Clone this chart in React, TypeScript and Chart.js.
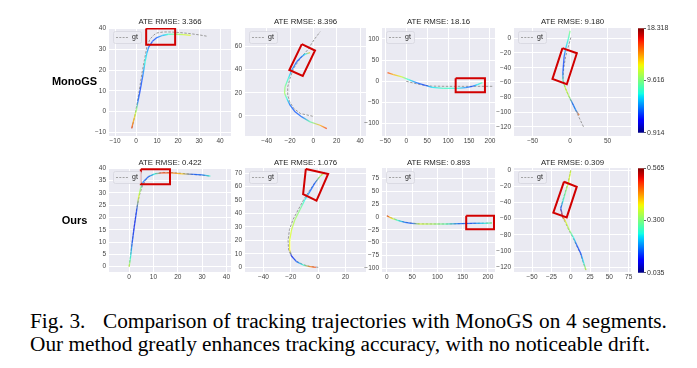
import React, { useEffect, useRef } from "react";
import { Chart, registerables } from "chart.js";
Chart.register(...registerables);

// ---------------- data ----------------
const titles = [
  "ATE RMSE: 3.366", "ATE RMSE: 8.396", "ATE RMSE: 18.16", "ATE RMSE: 9.180",
  "ATE RMSE: 0.422", "ATE RMSE: 1.076", "ATE RMSE: 0.893", "ATE RMSE: 0.309",
];
const rowLabels = ["MonoGS", "Ours"];
const cbTicksMono = [0.914, 9.616, 18.318];
const cbTicksOurs = [0.035, 0.3, 0.565];

// MonoGS, segment 1
const m1Est = [[-2.1,-8],[-1.1,-4],[-0.3,-1],[0.3,1.5],[0.9,5],[1.9,10],[2.8,15],[3.5,19],[4.3,24],[5.1,28],[6,31],[7.8,33.8],[9.9,35.6],[12.5,36.6],[15.4,37.2],[19,37.2],[22.5,37],[26,36.7]];
const m1Err = [15.71,13.45,11.36,9.62,4.74,4.05,4.39,5.27,7.53,6.48,4.74,4.05,4.39,6.14,7.88,9.62,11.36,11.7];
const m1Gt = [[-2,-8],[-0.6,-2],[0.5,4],[1.5,10],[2.7,18],[4,25],[5.1,31],[6.6,34.8],[8.5,36.9],[9.9,37.8],[13,38.3],[16.2,38.3],[21,38],[25.7,37.5],[30,36.9],[34,36.2]];
const m1Box = [[4.8,39.9],[18.6,39.9],[18.6,32.2],[4.8,32.2],[4.8,39.9]];
const m1XTicks = [-10,0,10,20,30,40];
const m1YTicks = [-10,0,10,20,30,40];

// MonoGS, segment 2
const m2Est = [[11.5,-11],[5.7,-8.1],[-2.8,-5.2],[-9.9,-0.9],[-15.7,3.5],[-20,9.3],[-22.8,15.1],[-24.7,19.5],[-24.3,25.2],[-21.4,32.5],[-18.5,39.7],[-14.2,47],[-9.9,51.3],[-7.1,53.4],[-2.8,54.8]];
const m2Err = [15.71,13.45,8.75,4.74,4.39,4.74,7.53,10.49,9.62,7.53,5.27,4.39,4.74,7.0,13.1];
const m2Gt = [[-0.5,-0.3],[-11,2],[-16.8,6.4],[-20.3,12.2],[-22,18],[-22,25],[-20,32.5],[-17,41],[-11,50],[-5,57],[0.7,66],[5.8,72.8]];
const m2Box = [[-9.9,62.1],[1.4,56.5],[-9.1,34.5],[-20.6,39.7],[-9.9,62.1]];
const m2XTicks = [-40,-20,0,20,40];
const m2YTicks = [0,20,40,60];

// MonoGS, segment 3
const m3Est = [[-44.9,20.7],[-30.5,15.9],[-10.4,10.3],[5.6,3.9],[25.6,-4],[45.7,-9.5],[61.7,-14.3],[89.7,-16.7],[121.8,-16.7],[141.8,-15.1],[157.9,-11.9],[169.9,-7.9],[181.9,-3.2]];
const m3Err = [15.71,13.45,11.36,7.53,4.74,4.05,7.0,8.22,7.53,5.27,4.05,7.0,8.75];
const m3Gt = [[0,0],[20,-5],[40,-9],[60,-11.5],[100,-12],[150,-12],[209,-12]];
const m3Box = [[118,7],[188,7],[188,-26],[118,-26],[118,7]];
const m3XTicks = [-50,0,50,100,150,200];
const m3YTicks = [-100,-50,0,50,100];

// MonoGS, segment 4
const m4Est = [[0,9.9],[-2.7,-2.3],[-5.8,-13.6],[-8,-24.9],[-8.9,-36.2],[-9.8,-47.5],[-9.4,-58.9],[-5.8,-68.8],[-1.3,-79.2],[3.2,-88.2],[7.6,-97.3],[12.1,-104]];
const m4Err = [9.62,7.88,6.48,4.39,4.05,4.74,8.75,11.36,10.49,4.74,5.27,14.84];
const m4Gt = [[1,0.8],[-2,-10],[-6,-25],[-8.5,-40],[-9.5,-55],[-7,-66],[-2,-78],[4,-90],[10,-103],[18,-120]];
const m4Box = [[-10.2,-13.6],[9,-20.4],[-4.4,-62.4],[-23.6,-55.2],[-10.2,-13.6]];
const m4XTicks = [-50,0,50];
const m4YTicks = [-120,-100,-80,-60,-40,-20,0];

// Ours, segment 1
const o1Est = [[0,0],[0.6,4],[1.2,9.5],[2.1,16.2],[3.1,23],[3.9,28.4],[4.7,31.9],[5.8,34.5],[7.9,36.6],[10.6,37.7],[13.4,38.1],[17.5,38.1],[21.7,37.7],[26.5,37.5],[30,37.3],[33.4,36.8]];
const o1Err = [0.353,0.236,0.141,0.115,0.13,0.364,0.3,0.152,0.141,0.236,0.486,0.459,0.406,0.141,0.152,0.247];
const o1Gt = [[0,0],[1,8],[2,16],[3,23],[4.2,29],[5.5,33],[7.5,36.2],[10.5,37.8],[14,38.3],[18,38.2],[22,37.9],[26,37.5],[30,37.2],[33.5,36.8]];
const o1Box = [[4.8,39.6],[16.8,39.6],[16.8,33.5],[4.8,33.5],[4.8,39.6]];
const o1XTicks = [0,10,20,30,40];
const o1YTicks = [0,5,10,15,20,25,30,35,40];

// Ours, segment 2
const o2Est = [[-1.7,0],[-6.1,0.5],[-11,1.7],[-15.9,4.2],[-19.5,8.4],[-20.8,12.9],[-20.8,20.3],[-19.5,27.8],[-17.1,35.2],[-13.4,42.7],[-9.8,50.1],[-6.1,56.3],[-2.4,62.6],[1.2,67.5],[4.4,70]];
const o2Err = [0.486,0.448,0.247,0.141,0.115,0.38,0.364,0.353,0.327,0.3,0.236,0.152,0.141,0.327,0.353];
const o2Gt = [[0,0],[-6,0.6],[-11,2],[-16,4.6],[-19.8,8.8],[-21.6,13],[-22,20],[-21,28],[-18.4,35.5],[-14.5,43],[-10.5,50.5],[-6.5,57],[-2.4,63],[1.6,68],[4.8,70.8]];
const o2Box = [[-9,73.2],[7.3,69.5],[-1.2,49.6],[-11,54.4],[-9,73.2]];
const o2XTicks = [-40,-20,0,20];
const o2YTicks = [0,10,20,30,40,50,60,70];

// Ours, segment 3
const o3Est = [[0,2.2],[9.7,-2.8],[22.7,-7.5],[35.7,-10.6],[48.7,-12.5],[64.9,-13.9],[90.9,-13.9],[117,-13.9],[142.9,-13.3],[168.8,-12.5],[191.6,-12.5],[207.8,-11.9]];
const o3Err = [0.486,0.38,0.236,0.152,0.141,0.353,0.327,0.274,0.152,0.141,0.221,0.3];
const o3Gt = [[0,2],[10,-2.5],[23,-7],[36,-10.3],[49,-12.2],[65,-13.6],[91,-13.8],[117,-13.8],[143,-13.3],[169,-12.6],[192,-12.3],[208,-11.8]];
const o3Box = [[157,2.2],[212,2.2],[212,-24.2],[157,-24.2],[157,2.2]];
const o3XTicks = [0,50,100,150,200];
const o3YTicks = [-100,-75,-50,-25,0,25,50,75];

// Ours, segment 4
const o4Est = [[0,-0.8],[-3.1,-16.4],[-6.5,-26.7],[-9.6,-37],[-12.9,-47.3],[-10.3,-57.6],[-6.5,-63.7],[-1.8,-74],[3.4,-83],[7.8,-92.5],[12.9,-102.7],[16.3,-113],[19.8,-123.3]];
const o4Err = [0.353,0.364,0.3,0.247,0.13,0.486,0.364,0.327,0.236,0.141,0.13,0.221,0.353];
const o4Gt = [[0,-0.5],[-3.5,-16],[-7,-27],[-10.3,-37.5],[-13.2,-48],[-11,-58],[-7,-64.5],[-2.2,-74.5],[3,-83.5],[7.4,-93],[12.5,-103],[16,-113.5],[19.6,-123.5]];
const o4Box = [[-8.7,-14.4],[7.8,-20.6],[-5.2,-58.4],[-22.5,-52.6],[-8.7,-14.4]];
const o4XTicks = [-50,-25,0,25,50,75];
const o4YTicks = [-120,-100,-80,-60,-40,-20,0];

// axis limits [xmin, xmax, ymin, ymax]
const limits = [
  [-12.9, 45.2, -11.7, 40.2],
  [-58.6, 45.1, -17.4, 76],
  [-58, 212, -129.5, 126],
  [-75, 81.4, -132.2, 13.6],
  [-8.3, 41.9, -2.2, 40.1],
  [-53.5, 35, -3.5, 73.9],
  [-9.7, 214, -107.2, 95],
  [-73.4, 78, -125.8, 2.5],
];

const captionLine1 = ["Fig.", "3.", "Comparison", "of", "tracking", "trajectories", "with", "MonoGS", "on", "4", "segments."];
const captionLine2 = "Our method greatly enhances tracking accuracy, with no noticeable drift.";

// ---------------- layout ----------------
const colL = [109, 245, 382, 514];
const colR = [231, 366, 495, 631];
const rowT = [28, 168];
const rowB = [136, 272];
const titlePad = [[2, 1], [4, 0]];
const cbTop = [28, 168];
const cbBottom = [133, 273];

// ---------------- colormap ----------------
const JR = [[0, 0], [0.35, 0], [0.66, 1], [0.89, 1], [1, 0.5]];
const JG = [[0, 0], [0.125, 0], [0.375, 1], [0.64, 1], [0.91, 0], [1, 0]];
const JB = [[0, 0.5], [0.11, 1], [0.34, 1], [0.65, 0], [1, 0]];
function interp(p: number[][], t: number) {
  for (let i = 1; i < p.length; i++) {
    if (t <= p[i][0]) {
      const [t0, v0] = p[i - 1];
      const [t1, v1] = p[i];
      return v0 + ((v1 - v0) * (t - t0)) / (t1 - t0);
    }
  }
  return p[p.length - 1][1];
}
function jet(t: number, a = 1) {
  const c = Math.max(0, Math.min(1, t));
  const r = Math.round(interp(JR, c) * 255);
  const g = Math.round(interp(JG, c) * 255);
  const b = Math.round(interp(JB, c) * 255);
  return `rgba(${r},${g},${b},${a})`;
}

const fmt = (v: number) => String(v).replace("-", "\u2212");
const FONT = "'Liberation Sans', Arial, sans-serif";
const YW = 30;   // y-axis label column width
const RP = 8;    // right padding of each panel canvas

const bgPlugin = {
  id: "bgPanel",
  beforeDraw(chart: any) {
    const { ctx, chartArea: a } = chart;
    ctx.save();
    ctx.fillStyle = "#EAEAF2";
    ctx.fillRect(a.left, a.top, a.right - a.left, a.bottom - a.top);
    ctx.restore();
  },
};
const legendPlugin = {
  id: "gtLegend",
  afterDatasetsDraw(chart: any) {
    const { ctx, chartArea: a } = chart;
    const x = a.left + 4, y = a.top + 3, w = 28, h = 12;
    ctx.save();
    ctx.beginPath();
    (ctx as any).roundRect(x + 0.5, y + 0.5, w, h, 2);
    ctx.fillStyle = "rgba(236,236,243,0.85)";
    ctx.fill();
    ctx.strokeStyle = "#d6d6de";
    ctx.lineWidth = 0.8;
    ctx.stroke();
    ctx.beginPath();
    ctx.setLineDash([2, 1.3]);
    ctx.strokeStyle = "#9a9a9a";
    ctx.lineWidth = 0.9;
    ctx.moveTo(x + 3, y + 6.5);
    ctx.lineTo(x + 15, y + 6.5);
    ctx.stroke();
    ctx.setLineDash([]);
    ctx.fillStyle = "#262626";
    ctx.font = `7px ${FONT}`;
    ctx.textBaseline = "middle";
    ctx.fillText("gt", x + 19, y + 6.5);
    ctx.restore();
  },
};

const toPts = (arr: number[][]) => arr.map(([x, y]) => ({ x, y }));

function panelConfig(i: number, est: number[][], err: number[], gt: number[][], box: number[][], xt: number[], yt: number[], cb: number[]) {
  const [xmin, xmax, ymin, ymax] = limits[i];
  const row = i < 4 ? 0 : 1;
  const emin = cb[0], emax = cb[2];
  const norm = (e: number) => (e - emin) / (emax - emin);
  const tickFont = { family: FONT, size: 6.5 };
  return {
    type: "scatter",
    data: {
      datasets: [
        {
          data: toPts(box), showLine: true, borderColor: "#d10000", borderWidth: 2,
          pointRadius: 0, tension: 0, fill: false, borderJoinStyle: "miter",
        },
        {
          data: toPts(est), showLine: true, borderWidth: 1.3, pointRadius: 0, tension: 0,
          borderCapStyle: "butt",
          borderColor: jet(0.5, 0.75),
          segment: {
            borderColor: (sc: any) => {
              const c = sc.chart.ctx as CanvasRenderingContext2D;
              const g = c.createLinearGradient(sc.p0.x, sc.p0.y, sc.p1.x, sc.p1.y);
              g.addColorStop(0, jet(norm(err[sc.p0DataIndex]), 0.75));
              g.addColorStop(1, jet(norm(err[sc.p1DataIndex]), 0.75));
              return g;
            },
          },
        },
        {
          data: toPts(gt), showLine: true, borderColor: "#9a9a9a", borderWidth: 1,
          borderDash: [2.5, 1.5], pointRadius: 0, tension: 0,
        },
      ],
    },
    options: {
      responsive: false,
      animation: false,
      events: [],
      layout: { padding: { left: 0, right: RP, top: 0, bottom: 0 }, autoPadding: false },
      plugins: {
        legend: { display: false },
        tooltip: { enabled: false },
        title: {
          display: true,
          fullSize: false,
          text: titles[i],
          color: "#262626",
          font: { family: FONT, size: 7.8, weight: "normal", lineHeight: "11px" },
          padding: { top: titlePad[row][0], bottom: titlePad[row][1] },
        },
      },
      scales: {
        x: {
          type: "linear", min: xmin, max: xmax,
          afterBuildTicks: (s: any) => { s.ticks = xt.map((v) => ({ value: v })); },
          afterFit: (s: any) => { s.height = 12; },
          grid: { color: "#ffffff", lineWidth: 1, drawTicks: false },
          border: { display: false },
          ticks: { padding: 1.5, font: tickFont, color: "#444", maxRotation: 0, autoSkip: false, callback: (v: number) => fmt(v) },
        },
        y: {
          type: "linear", min: ymin, max: ymax,
          afterBuildTicks: (s: any) => { s.ticks = yt.map((v) => ({ value: v })); },
          afterFit: (s: any) => { s.width = YW; },
          grid: { color: "#ffffff", lineWidth: 1, drawTicks: false },
          border: { display: false },
          ticks: { padding: 3, font: tickFont, color: "#444", autoSkip: false, callback: (v: number) => fmt(v) },
        },
      },
    },
    plugins: [bgPlugin, legendPlugin],
  };
}

function colorbarConfig(cb: number[]) {
  return {
    type: "bar",
    data: {
      labels: [""],
      datasets: [
        {
          data: [[cb[0], cb[2]]],
          barPercentage: 1,
          categoryPercentage: 1,
          borderWidth: 0,
          backgroundColor: (c: any) => {
            const area = c.chart.chartArea;
            if (!area) return "#00f";
            const g = c.chart.ctx.createLinearGradient(0, area.bottom, 0, area.top);
            for (let k = 0; k <= 40; k++) g.addColorStop(k / 40, jet(k / 40));
            return g;
          },
        },
      ],
    },
    options: {
      responsive: false,
      animation: false,
      events: [],
      layout: { padding: { left: 2, right: 0, top: 5, bottom: 5 }, autoPadding: false },
      plugins: { legend: { display: false }, tooltip: { enabled: false }, title: { display: false } },
      scales: {
        x: { display: false },
        y: {
          position: "right", min: cb[0], max: cb[2],
          afterBuildTicks: (s: any) => { s.ticks = cb.map((v) => ({ value: v })); },
          afterFit: (s: any) => { s.width = 48; },
          grid: { drawOnChartArea: false, drawTicks: true, tickLength: 2, color: "#333", lineWidth: 0.8 },
          border: { display: false },
          ticks: { padding: 1, font: { family: FONT, size: 7 }, color: "#333", autoSkip: false, callback: (v: number) => v.toFixed(3) },
        },
      },
    },
  };
}

function ChartCanvas(props: { make: () => any; left: number; top: number; width: number; height: number }) {
  const ref = useRef<HTMLCanvasElement>(null);
  useEffect(() => {
    const chart = new Chart(ref.current as HTMLCanvasElement, props.make());
    return () => chart.destroy();
  }, []);
  return (
    <canvas
      ref={ref}
      width={props.width}
      height={props.height}
      style={{ position: "absolute", left: props.left, top: props.top, width: props.width, height: props.height }}
    />
  );
}

const panels = [
  [m1Est, m1Err, m1Gt, m1Box, m1XTicks, m1YTicks, cbTicksMono],
  [m2Est, m2Err, m2Gt, m2Box, m2XTicks, m2YTicks, cbTicksMono],
  [m3Est, m3Err, m3Gt, m3Box, m3XTicks, m3YTicks, cbTicksMono],
  [m4Est, m4Err, m4Gt, m4Box, m4XTicks, m4YTicks, cbTicksMono],
  [o1Est, o1Err, o1Gt, o1Box, o1XTicks, o1YTicks, cbTicksOurs],
  [o2Est, o2Err, o2Gt, o2Box, o2XTicks, o2YTicks, cbTicksOurs],
  [o3Est, o3Err, o3Gt, o3Box, o3XTicks, o3YTicks, cbTicksOurs],
  [o4Est, o4Err, o4Gt, o4Box, o4XTicks, o4YTicks, cbTicksOurs],
] as any[];

export default function App() {
  const canvases = panels.map((p, i) => {
    const row = i < 4 ? 0 : 1;
    const col = i % 4;
    const block = 11 + titlePad[row][0] + titlePad[row][1];
    const left = colL[col] - YW;
    const top = rowT[row] - block;
    const width = colR[col] - colL[col] + YW + RP;
    const height = block + rowB[row] - rowT[row] + 12;
    return (
      <ChartCanvas key={i} left={left} top={top} width={width} height={height}
        make={() => panelConfig(i, p[0], p[1], p[2], p[3], p[4], p[5], p[6])} />
    );
  });
  const bars = [cbTicksMono, cbTicksOurs].map((cb, r) => (
    <ChartCanvas key={"cb" + r} left={636} top={cbTop[r] - 5} width={56} height={cbBottom[r] - cbTop[r] + 10}
      make={() => colorbarConfig(cb)} />
  ));
  const serif = "'Liberation Serif', 'Times New Roman', serif";
  return (
    <div style={{ position: "absolute", left: 0, top: 0, width: 697, height: 368, background: "#fff", overflow: "hidden" }}>
      {canvases}
      {bars}
      {rowLabels.map((t, r) => (
        <div key={t} style={{
          position: "absolute", left: 34.5, width: 80, top: r === 0 ? 75 : 214, lineHeight: "13px",
          textAlign: "center", fontFamily: FONT, fontWeight: "bold", fontSize: 11, color: "#000",
        }}>{t}</div>
      ))}
      <div style={{
        position: "absolute", left: 30, top: 309.2, width: 637, display: "flex", justifyContent: "space-between",
        fontFamily: serif, fontSize: 21.3, lineHeight: "24px", color: "#000", whiteSpace: "nowrap",
      }}>
        {captionLine1.map((w, k) => (
          <span key={k} style={{ marginRight: k === 1 ? 12 : 0 }}>{w}</span>
        ))}
      </div>
      <div style={{
        position: "absolute", left: 30, top: 332, fontFamily: serif,
        fontSize: 21.3, lineHeight: "24px", color: "#000", whiteSpace: "nowrap",
      }}>{captionLine2}</div>
    </div>
  );
}
